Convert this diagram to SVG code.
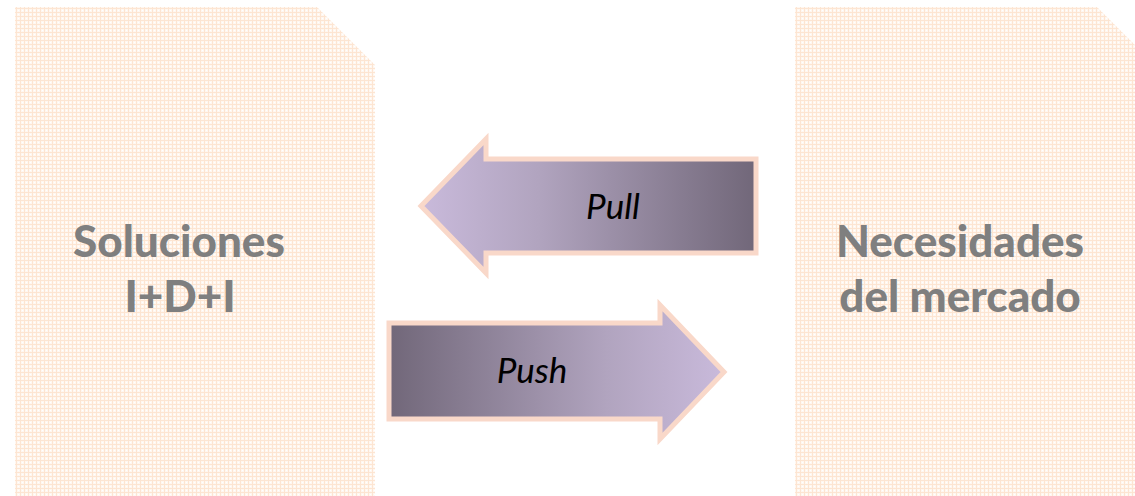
<svg xmlns="http://www.w3.org/2000/svg" width="1135" height="496" viewBox="0 0 1135 496">
  <defs>
    <!-- fine peach check used to fill the two side panels -->
    <pattern id="check" width="4" height="4" patternUnits="userSpaceOnUse">
      <rect width="4" height="4" fill="#fff7f0"/>
      <rect x="0" y="0" width="4" height="1" fill="#fde5d2"/>
      <rect x="0" y="0" width="1" height="4" fill="#fde5d2"/>
      <rect x="2" y="2" width="1" height="1" fill="#ffffff"/>
    </pattern>
    <linearGradient id="gradPull" x1="0" y1="0" x2="1" y2="0">
      <stop offset="0" stop-color="#c9badb"/>
      <stop offset="0.35" stop-color="#b1a4bf"/>
      <stop offset="1" stop-color="#716779"/>
    </linearGradient>
    <linearGradient id="gradPush" x1="0" y1="0" x2="1" y2="0">
      <stop offset="0" stop-color="#716779"/>
      <stop offset="0.65" stop-color="#b1a4bf"/>
      <stop offset="1" stop-color="#c9badb"/>
    </linearGradient>
    <style>
      .panel { fill: url(#check); }
      .title { font-family: Lato, "Liberation Sans", sans-serif; font-weight: 900; font-size: 44px; fill: #7f7f7f; text-anchor: middle; }
      .arrow { stroke: #f9d8c9; stroke-width: 5; stroke-linejoin: miter; }
      .label { font-family: Lato, "Liberation Sans", sans-serif; font-style: italic; font-size: 35px; fill: #000000; text-anchor: middle; }
    </style>
  </defs>

  <!-- left panel -->
  <g id="soluciones">
    <polygon class="panel" points="15,7 317,7 375,65 375,496 15,496"/>
    <text class="title" x="179" y="257">Soluciones</text>
    <text class="title" x="180" y="312">I+D+I</text>
  </g>

  <!-- right panel -->
  <g id="necesidades">
    <polygon class="panel" points="795,7 1097,7 1155,65 1155,496 795,496"/>
    <text class="title" x="960" y="257">Necesidades</text>
    <text class="title" x="960" y="312">del mercado</text>
  </g>

  <!-- block arrows between the panels -->
  <g id="connectors">
    <g id="pull">
      <polygon class="arrow" fill="url(#gradPull)" points="421,206 486,139 486,159 756,159 756,253 486,253 486,273"/>
      <text class="label" x="613" y="219">Pull</text>
    </g>
    <g id="push">
      <polygon class="arrow" fill="url(#gradPush)" points="389,323 660,323 660,305 724,372 660,439 660,419 389,419"/>
      <text class="label" x="532" y="383">Push</text>
    </g>
  </g>
</svg>
